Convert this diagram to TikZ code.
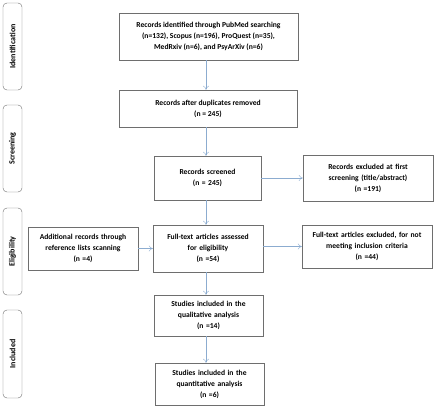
\documentclass[tikz,border=0pt]{standalone}
\usepackage{fontspec}
\setmainfont{Carlito}
\usetikzlibrary{positioning,arrows.meta}
\definecolor{myframe}{RGB}{110,110,110}
\definecolor{myarrow}{RGB}{140,172,208}

\begin{document}
\begin{tikzpicture}[
    x=1pt,y=-1pt,
    box/.style={draw=myframe, fill=white, align=center, inner sep=2pt,
                font={\fontsize{7.6}{11}\selectfont\bfseries}},
    stage/.style={draw=myframe, rounded corners=4pt, minimum height=19pt, rotate=90,
                  font={\fontsize{8}{9}\selectfont\bfseries}},
    flow/.style={draw=myarrow, -{To[length=4pt,width=6pt]}, thin},]

    \useasboundingbox (0,0) rectangle (440,406);
    \coordinate (col) at (206,0);

    % stage labels on the left
    \node[stage, minimum width=87pt] (sident) at (12.5,46.5) {Identification};
    \node[stage, minimum width=87pt] (sscreen) at (12.5,148.5) {Screening};
    \node[stage, minimum width=87pt] (selig) at (12.5,251.5) {Eligibility};
    \node[stage, minimum width=88pt] (sincl) at (12.5,354) {Included};

    % main column
    \node[box, minimum width=179pt, minimum height=47pt] (ident) at (208.5,36.5)
        {Records identified through PubMed searching\\ (n=132), Scopus (n=196), ProQuest (n=35),\\ MedRxiv (n=6), and PsyArXiv (n=6)};
    \node[box, minimum width=178pt, minimum height=37pt] (dupl) at (208,108.5)
        {Records after duplicates removed\\ (n = 245)};
    \node[box, text width=103pt, text depth=12pt, minimum height=44pt] (screen) at (207.5,178)
        {Records screened\\ (n = 245)};
    \node[box, text width=106pt, minimum height=47pt] (full) at (208,248.5)
        {Full-text articles assessed\\ for eligibility\\ (n =54)};
    \node[box, text width=105pt, minimum height=41pt] (qual) at (208.5,315.5)
        {Studies included in the\\ qualitative analysis\\ (n =14)};
    \node[box, text width=105pt, minimum height=42pt] (quant) at (209.5,384)
        {Studies included in the\\ quantitative analysis\\ (n =6)};

    % side boxes
    \node[box, text width=126pt, minimum height=46pt] (excl) at (368,178)
        {Records excluded at first\\ screening (title/abstract)\\ (n =191)};
    \node[box, text width=106pt, minimum height=43pt] (addit) at (83,248.5)
        {Additional records through\\ reference lists scanning\\ (n =4)};
    \node[box, text width=126pt, minimum height=43pt] (exft) at (367,246.5)
        {Full-text articles excluded, for not\\ meeting inclusion criteria\\ (n =44)};

    % connectors
    \draw[flow] (ident.south -| col) -- (dupl.north -| col);
    \draw[flow] (dupl.south -| col) -- (screen.north -| col);
    \draw[flow] (screen.south -| col) -- (full.north -| col);
    \draw[flow] (full.south -| col) -- (qual.north -| col);
    \draw[flow] (qual.south -| col) -- (quant.north -| col);
    \draw[flow] (screen.east |- excl) -- (excl);
    \draw[flow] (addit.east |- full) -- (full);
    \draw[flow] (full.east |- exft) -- (exft);

\end{tikzpicture}
\end{document}
